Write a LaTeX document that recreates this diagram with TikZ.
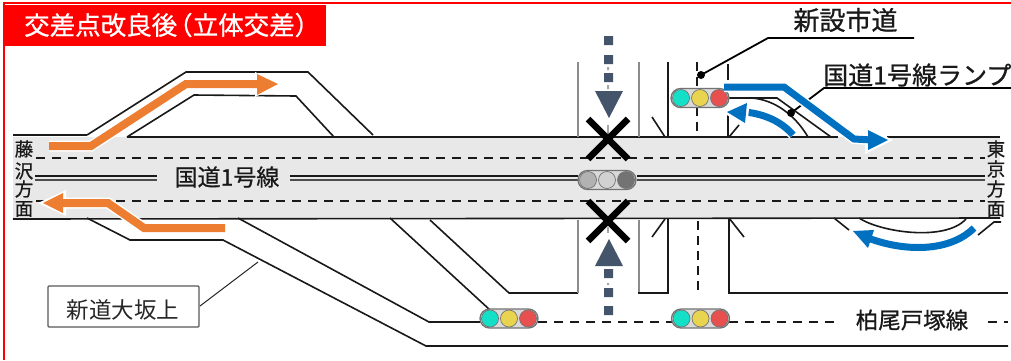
\documentclass[tikz,border=0pt]{standalone}
\usepackage{fontspec}
\setmainfont{Noto Sans CJK JP}
\newfontfamily\medfont[FakeBold=0.8]{Noto Sans CJK JP}
\definecolor{roadgray}{HTML}{E8E8E8}
\definecolor{slate}{HTML}{44546A}
\definecolor{orangearrow}{HTML}{ED7D31}
\definecolor{bluearrow}{HTML}{0070C0}
\definecolor{sigteal}{HTML}{14E0C8}
\definecolor{sigyellow}{HTML}{E8D44F}
\definecolor{sigred}{HTML}{E8504F}
\tikzset{
  x=1pt,y=-1pt,
  road/.style={draw=black!90,line width=1.6pt},
  gline/.style={draw=black!45,line width=1.7pt},
  lane/.style={draw=black!90,line width=1.6pt,dash pattern=on 9pt off 7pt},
  halo/.style={draw=white,line width=#1},
  lab/.style={font=\medfont\fontsize{#1}{#1}\selectfont,inner sep=0pt,text=black!90},
  pill/.style={draw=black!55,line width=1.3pt,fill=black!15,rounded corners=9.5pt},
  lamp/.style={circle,draw=black!55,line width=.7pt,minimum size=17pt,inner sep=0pt},
  xmark/.style={draw=black,line width=6.5pt},
  sq/.style={fill=slate},
}
\newcommand{\signalat}[6]{%
  \path[pill] (#1-10,#2-9.5) rectangle (#1+48,#2+9.5);
  \node[lamp,fill=#3] at (#1,#2) {};
  \node[lamp,fill=#4] at (#1+19,#2) {};
  \node[lamp,fill=#5] at (#1+38,#2) {};
}
\begin{document}
\begin{tikzpicture}
\useasboundingbox (0,0) rectangle (1011,360);
\fill[white] (0,0) rectangle (1011,360);
% road band
\fill[roadgray] (13,137) rectangle (1000,218);
% frame
\draw[red,line width=2.2pt] (4,360) -- (4,3) -- (1011,3);
\fill[red] (4,5) rectangle (326,46);
\node[lab=25.5,text=white,anchor=west] (title) at (24,25) {交差点改良後\kern-10pt （立体交差）};
% main road lines
\draw[road] (13,135) -- (87,135);
\draw[road] (127,137) -- (575,137);
\draw[road] (575,137) -- (642,137);
\draw[road] (642,137) -- (838,137);
\draw[road] (887,137) -- (1000,137);
\draw[road] (13,219) -- (1000,218);
\draw[road] (35,176) -- (157,176) (290,176) -- (578,176) (637,176) -- (985,176);
\draw[road,draw=black!70,line width=1.2pt] (35,180) -- (157,180) (290,180) -- (578,180) (637,180) -- (985,180);
\draw[lane] (36,158) -- (985,158);
\draw[lane] (36,201) -- (985,201);
% upper-left ramp
\draw[road,line join=miter] (87,135) -- (186,72) -- (308,72) -- (373,135);
\draw[road] (127,137) -- (194,95) -- (296,96) -- (334,137);
% lower-left ramp
\draw[road] (87,218) -- (130,240) -- (223,240) -- (426,346) -- (1008,346);
\draw[road] (238,218) -- (429,322) -- (482,322);
% middle ramps
\draw[road] (390,218) -- (490,310);
\draw[road] (430,220) -- (509,293) -- (578,293);
% crossing road
\draw[gline] (578,62) -- (578,137);
\draw[gline] (639,62) -- (639,137);
\draw[gline] (578,220) -- (578,293);
\draw[gline] (639,220) -- (639,293);
\draw[road] (668,62) -- (668,137);
\draw[road] (652,117) -- (665,137);
\draw[road] (638,293) -- (668,293) -- (668,218);
\draw[road] (665,219) -- (652,237);
% new road
\draw[road,dash pattern=on 9pt off 6pt] (697,62) -- (697,137);
\draw[road,dash pattern=on 9pt off 6pt] (698,221) -- (698,290);
\draw[road] (728,64) -- (728,80);
\draw[road] (728,115) -- (728,137);
\draw[road] (729,137) -- (739,125);
\draw[road] (729,218) -- (729,293) -- (1008,293);
\draw[road] (729,218) -- (744,237);
% upper-right ramp
\draw[road] (725,98) -- (777,98) -- (831,137);
\draw[road] (725,98) -- (752,98) .. controls (775,100) and (795,115) .. (808,137);
% lower-right ramp
\draw[road] (859,218) .. controls (880,232) and (945,242) .. (966,219);
\draw[road] (834,218) -- (849,230);
\draw[road] (978,235) -- (994,222) -- (1001,222);
% crossing lines dots
\draw[black!35,line width=1.5pt] (608,125) -- (608,134) (608,227) -- (608,233);
\fill[black!35] (607,67) rectangle (609,70) (607,85) rectangle (609,89) (607,283) rectangle (609,285);
% slate arrows
\fill[sq] (604,36) rectangle (613,45) (604,55) rectangle (613,64) (604,73) rectangle (613,82);
\fill[sq] (595,91) -- (623,91) -- (609,118) -- cycle;
\fill[sq] (604,269) rectangle (613,278) (604,288) rectangle (613,297) (604,306) rectangle (613,315);
\fill[sq] (595,266) -- (623,266) -- (609,239) -- cycle;
% crosses
\draw[xmark] (588,119) -- (628,159) (628,119) -- (588,159);
\draw[xmark] (588,201) -- (628,241) (628,201) -- (588,241);
% cross-street dashed line
\draw[lane] (538,322) -- (672,322);
\draw[lane] (729,322) -- (840,322);
\draw[lane] (988,322) -- (1008,322);
% signals
\signalat{490}{318.5}{sigteal}{sigyellow}{sigred}{}{}
\signalat{681.5}{318.5}{sigteal}{sigyellow}{sigred}{}{}
\signalat{681}{98}{sigteal}{sigyellow}{sigred}{}{}
\signalat{588}{180}{black!30}{black!18}{black!55}{}{}
% leader lines
\draw[black,line width=1.8pt] (914,38) -- (768,38) -- (701,75);
\fill[black] (701,75) circle (4);
\draw[black,line width=1.8pt] (1011,88) -- (824,88) -- (791,113);
\fill[black] (791,113) circle (4);
% orange arrows
\draw[halo=11pt] (49,146) -- (91,146) -- (186,84) -- (262,84);
\fill[white] (255,72) -- (283,84) -- (255,97) -- cycle;
\draw[orangearrow,line width=8pt] (49,146) -- (91,146) -- (186,84) -- (258,84);
\fill[orangearrow] (257,74) -- (278,84) -- (257,95) -- cycle;
\draw[halo=11pt] (225,228) -- (144,228) -- (108,203) -- (60,203);
\fill[white] (66,190) -- (38,203) -- (66,216) -- cycle;
\draw[orangearrow,line width=8pt] (225,228) -- (144,228) -- (108,203) -- (60,203);
\fill[orangearrow] (63,193) -- (43,203) -- (63,213) -- cycle;
% blue arrows
\draw[halo=10pt] (724,87) -- (784,87) -- (854,139) -- (872,140);
\fill[white] (865,126) -- (893,140) -- (865,154) -- cycle;
\draw[bluearrow,line width=7pt] (724,87) -- (784,87) -- (854,139) -- (872,140);
\fill[bluearrow] (868,130) -- (888,140) -- (868,150) -- cycle;
\draw[halo=10pt] (793,135) .. controls (782,122) and (765,114) .. (745,112);
\draw[bluearrow,line width=7pt] (793,135) .. controls (782,122) and (765,114) .. (745,112);
\fill[white] (750,100) -- (722,112) -- (747,127) -- cycle;
\fill[bluearrow] (747,103) -- (727,112) -- (745,123) -- cycle;
\draw[halo=10pt] (974,228) .. controls (950,252) and (905,252) .. (868,238);
\draw[bluearrow,line width=7pt] (974,228) .. controls (950,252) and (905,252) .. (868,238);
\fill[bluearrow] (874,230) -- (853,231) -- (868,248) -- cycle;
% texts
\node[lab=23] (n1) at (227,177) {国道1号線};
\node[lab=18.5] (w1) at (24,149) {藤};
\node[lab=18.5] (w2) at (24,171) {沢};
\node[lab=18.5] (w3) at (24,189) {方};
\node[lab=18.5] (w4) at (24,209) {面};
\node[lab=18.5] (e1) at (996,149) {東};
\node[lab=18.5] (e2) at (996,169) {京};
\node[lab=18.5] (e3) at (996,189) {方};
\node[lab=18.5] (e4) at (996,209) {面};
\node[lab=26] (n2) at (845.5,20) {新設市道};
\node[lab=25,anchor=west] (n3) at (823,75) {国道1号線ランプ};
\node[lab=22.5] (n4) at (912,320) {柏尾戸塚線};
% label box
\draw[black!65,line width=1.2pt,rounded corners=1pt,fill=white] (48,286) rectangle (199,327);
\node[font=\fontsize{22.5}{22.5}\selectfont,inner sep=0pt,text=black!85] (n5) at (123,310) {新道大坂上};
\draw[black!85,line width=1pt] (200,306) -- (258,262);
\end{tikzpicture}
\end{document}
